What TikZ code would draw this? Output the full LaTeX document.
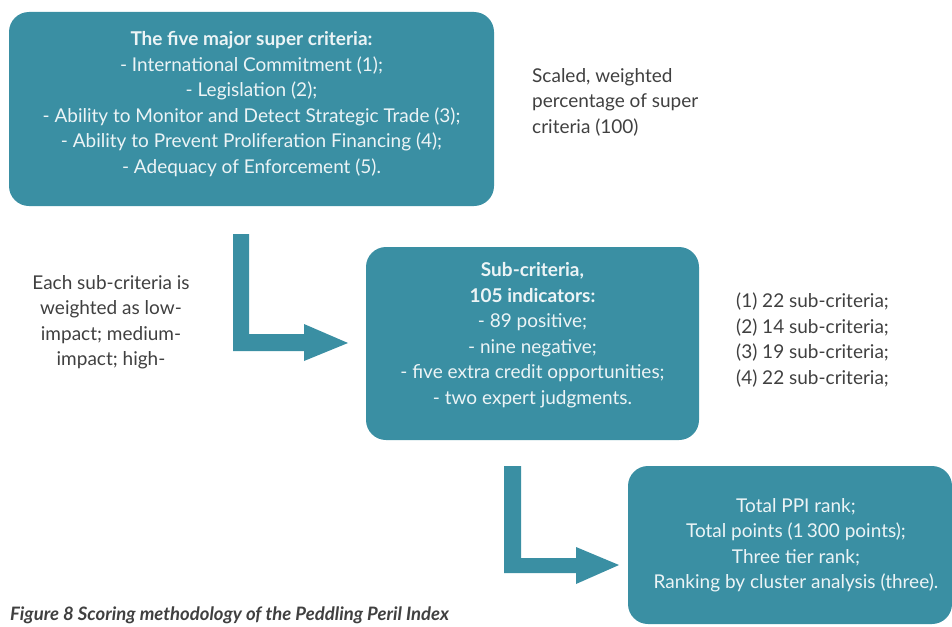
\documentclass[tikz,border=0pt]{standalone}
\usepackage{fontspec}
\setmainfont{Lato}
\definecolor{teal1}{RGB}{58,143,163}
\definecolor{boxtext}{RGB}{236,244,246}
\definecolor{graytext}{RGB}{64,64,64}
\begin{document}
\begin{tikzpicture}[x=1pt,y=-1pt,
  box/.style={fill=teal1,draw=none,rounded corners=20pt,inner sep=0pt},
  boxlabel/.style={text=boxtext,align=center,inner sep=0pt,font=\fontsize{19}{25.5}\selectfont},
  sidelabel/.style={text=graytext,inner sep=0pt,font=\fontsize{19}{25.5}\selectfont},
  blockarrow/.style={fill=teal1,draw=none}]
\useasboundingbox (0,0) rectangle (952,626);
\clip (0,0) rectangle (952,626);
% boxes
\node[box,minimum width=485pt,minimum height=194pt] (b1) at (251.5,109) {};
\node[box,minimum width=333pt,minimum height=193pt] (b2) at (532.5,343.5) {};
\node[box,minimum width=324pt,minimum height=158pt] (b3) at (790,545) {};
% box texts
\node[boxlabel] (t1) at (251.5,104) {\textbf{The five major super criteria:}\\
- International Commitment (1);\\
- Legislation (2);\\
- Ability to Monitor and Detect Strategic Trade (3);\\
- Ability to Prevent Proliferation Financing (4);\\
- Adequacy of Enforcement (5).};
\node[boxlabel] (t2) at (532.5,335) {\textbf{Sub-criteria,}\\
\textbf{105 indicators:}\\
- 89 positive;\\
- nine negative;\\
- five extra credit opportunities;\\
- two expert judgments.};
\node[boxlabel] (t3) at (796,545) {Total PPI rank;\\
Total points (1\,300 points);\\
Three tier rank;\\
Ranking by cluster analysis (three).};
% side texts
\node[sidelabel,align=left,anchor=west] (s1) at (532,102) {Scaled, weighted\\percentage of super\\criteria (100)};
\node[sidelabel,align=center] (s2) at (111,322) {Each sub-criteria is\\weighted as low-\\impact; medium-\\impact; high-};
\node[sidelabel,align=left,anchor=west] (s3) at (736,340) {(1) 22 sub-criteria;\\(2) 14 sub-criteria;\\(3) 19 sub-criteria;\\(4) 22 sub-criteria;};
% block arrows
\fill[blockarrow] (233,234) -- (249,234) -- (249,334) -- (304,334) -- (304,324) -- (348,343) -- (304,361) -- (304,351) -- (233,351) -- cycle;
\fill[blockarrow] (504,466) -- (521,466) -- (521,558) -- (576,558) -- (576,547) -- (619,565) -- (576,584) -- (576,573) -- (504,573) -- cycle;
% caption
\node[text=graytext,anchor=base west,inner sep=0pt,font=\fontsize{18.5}{20}\selectfont\bfseries\itshape] (cap) at (10,620.5) {Figure 8 Scoring methodology of the Peddling Peril Index};
\end{tikzpicture}
\end{document}
